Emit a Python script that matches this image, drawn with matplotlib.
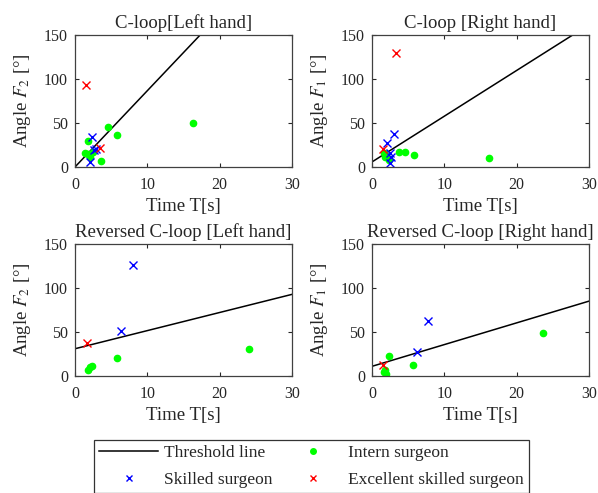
import matplotlib
matplotlib.use("Agg")
import matplotlib.pyplot as plt
from matplotlib.lines import Line2D

plt.rcParams["font.family"] = ["Liberation Serif", "DejaVu Serif"]
plt.rcParams["mathtext.fontset"] = "stix"

# thresholds: intercept, slope
thr_icpt = [0.0, 5.7, 31.0, 11.0]
thr_slope = [8.67, 5.2, 2.06, 2.47]

titles = ["C-loop[Left hand]", "C-loop [Right hand]",
          "Reversed C-loop [Left hand]", "Reversed C-loop [Right hand]"]
ylabels = ["Angle $F_2$ [°]", "Angle $F_1$ [°]", "Angle $F_2$ [°]", "Angle $F_1$ [°]"]

# intern surgeon (green dots)
intern_t = [
    [4.5, 5.8, 16.3, 1.8, 1.4, 1.8, 3.6, 2.5, 2.1],
    [4.6, 5.8, 3.7, 16.2, 1.8, 2.3, 1.6, 2.0],
    [5.8, 24.0, 1.75, 2.05, 2.35],
    [2.3, 5.7, 23.6, 1.75, 1.9, 1.6],
]
intern_a = [
    [45, 36.5, 50, 30, 15.6, 14.4, 7.2, 17.5, 11],
    [16.7, 13.7, 16.7, 10, 11.8, 8, 15.6, 13],
    [21, 30.4, 7.2, 10, 11],
    [22.4, 12.2, 49, 7.2, 2.7, 4.6],
]

# skilled surgeon (blue x)
skilled_t = [
    [2.3, 2.07, 2.86, 2.6],
    [3.0, 2.1, 2.5, 2.7, 2.5],
    [8.0, 6.4],
    [7.7, 6.2],
]
skilled_a = [
    [34.6, 6, 21, 19],
    [38, 27, 15.6, 11.4, 4],
    [126, 51],
    [62.7, 27.3],
]

# excellent skilled surgeon (red x)
excel_t = [[1.5, 3.4], [3.3, 1.5], [1.7], [1.5]]
excel_a = [[93, 22], [130, 20.5], [37.6], [12.9]]

fig = plt.figure(figsize=(5.98, 4.93), dpi=100)
positions = [
    [0.1254, 0.6613, 0.3629, 0.2677],
    [0.622, 0.6613, 0.3629, 0.2677],
    [0.1254, 0.2373, 0.3629, 0.2677],
    [0.622, 0.2373, 0.3629, 0.2677],
]
txt = "#262626"
for i in range(4):
    ax = fig.add_axes(positions[i])
    xs = [0, 30]
    ax.plot(xs, [thr_icpt[i] + thr_slope[i] * x for x in xs], color="black", lw=1.1)
    ax.plot(intern_t[i], intern_a[i], "o", color="#00ff00", ms=4.5, mec="#00ff00", ls="none")
    ax.plot(skilled_t[i], skilled_a[i], "x", color="blue", ms=6, mew=1.0, ls="none")
    ax.plot(excel_t[i], excel_a[i], "x", color="red", ms=6, mew=1.0, ls="none")
    ax.set_xlim(0, 30)
    ax.set_ylim(0, 150)
    ax.set_xticks([0, 10, 20, 30])
    ax.set_yticks([0, 50, 100, 150])
    ax.tick_params(direction="in", top=True, right=True, length=3, labelsize=11.5,
                   colors=txt, width=0.8)
    ax.tick_params(axis="x", pad=7)
    ax.tick_params(axis="y", pad=5)
    for s in ax.spines.values():
        s.set_color("#404040")
        s.set_linewidth(0.9)
    ax.set_title(titles[i], fontsize=13.5, color=txt, pad=5)
    ax.set_xlabel("Time T[s]", fontsize=13.5, color=txt, labelpad=3.5)
    ax.set_ylabel(ylabels[i], fontsize=13.5, color=txt, labelpad=8)

handles = [
    Line2D([], [], color="black", lw=1.1),
    Line2D([], [], marker="x", color="blue", ls="none", ms=5, mew=1.0),
    Line2D([], [], marker="o", color="#00ff00", ls="none", ms=4),
    Line2D([], [], marker="x", color="red", ls="none", ms=5, mew=1.0),
]
labels = ["Threshold line", "Skilled surgeon", "Intern surgeon", "Excellent skilled surgeon"]
leg = fig.legend(handles, labels, loc="upper left", ncol=2,
                 bbox_to_anchor=(0.157, 0.1075),
                 fontsize=12.5, frameon=True, fancybox=False, edgecolor="black",
                 handlelength=3.4, columnspacing=0.6, borderaxespad=0, borderpad=0.3,
                 labelspacing=0.6, handletextpad=0.35)
leg.get_frame().set_linewidth(0.9)
for t in leg.get_texts():
    t.set_color(txt)

fig.savefig("out.png", dpi=100)
